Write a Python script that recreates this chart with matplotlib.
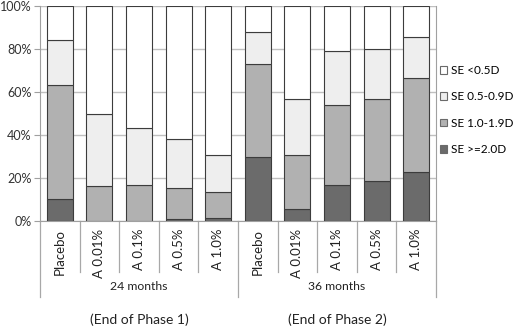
import matplotlib.pyplot as plt
import numpy as np
from matplotlib.patches import Patch

# stacked shares (%), bottom to top
categories = ["Placebo", "A 0.01%", "A 0.1%", "A 0.5%", "A 1.0%",
              "Placebo", "A 0.01%", "A 0.1%", "A 0.5%", "A 1.0%"]
groups = ["24 months", "36 months"]
phases = ["(End of Phase 1)", "(End of Phase 2)"]

se_ge_2_0 = [10.2, 0.3, 0.3, 0.9, 1.4, 29.7, 5.6, 16.7, 18.6, 22.8]
se_1_0_1_9 = [53.0, 16.1, 16.4, 14.4, 12.1, 43.5, 25.1, 37.2, 38.4, 43.6]
se_0_5_0_9 = [20.9, 33.6, 26.5, 22.8, 17.2, 14.9, 26.3, 25.1, 22.9, 19.4]
se_lt_0_5 = [15.9, 50.0, 56.8, 61.9, 69.3, 11.9, 43.0, 21.0, 20.1, 14.2]

series = [
    ("SE >=2.0D", se_ge_2_0, "#6b6b6b"),
    ("SE 1.0-1.9D", se_1_0_1_9, "#b1b1b1"),
    ("SE 0.5-0.9D", se_0_5_0_9, "#eeeeee"),
    ("SE <0.5D", se_lt_0_5, "#ffffff"),
]

plt.rcParams['font.family'] = ['Lato', 'DejaVu Sans']
plt.rcParams['font.size'] = 9

fig = plt.figure(figsize=(5.15, 3.27), dpi=100)
ax = fig.add_axes([40 / 515, 1 - 221.3 / 327, 396 / 515, 215.3 / 327])

x = np.arange(len(categories))
bottom = np.zeros(len(categories))
for name, vals, col in series:
    ax.bar(x, vals, 0.66, bottom=bottom, color=col, edgecolor="#3c3c3c",
           linewidth=0.8, zorder=3)
    bottom += np.array(vals)

ax.set_xlim(-0.5, len(categories) - 0.5)
ax.set_ylim(0, 100)
ax.set_yticks(np.arange(0, 101, 20))
ax.set_yticklabels([f"{v}%" for v in range(0, 101, 20)], color="#333333")
ax.yaxis.grid(True, color="#c0c0c0", linewidth=1.0, zorder=0)
ax.tick_params(axis="y", length=4, width=0.8, color="#a0a0a0", pad=2)
ax.set_xticks([])

ax.spines["top"].set_visible(False)
ax.spines["left"].set_color("#a0a0a0")
ax.spines["right"].set_color("#a0a0a0")
ax.spines["bottom"].set_color("#a0a0a0")

# multi-level category axis
trans = ax.get_xaxis_transform()
line_kw = dict(color="#a8a8a8", linewidth=0.9, transform=trans, clip_on=False)
for i in range(len(categories)):
    ax.text(i, -0.035, categories[i], rotation=90, ha="center", va="top",
            transform=trans, color="#222222", fontsize=9.5)
for b in np.arange(0.5, len(categories) - 1, 1.0):
    if b == 4.5:
        continue
    ax.plot([b, b], [0, -0.235], **line_kw)
for b in [-0.5, 4.5, 9.5]:
    ax.plot([b, b], [0, -0.351], **line_kw)
for k, g in enumerate(groups):
    cx = 2 + 5 * k
    ax.text(cx, -0.305, g, ha="center", va="center", transform=trans,
            color="#222222", fontsize=8.8)
    ax.text(cx, -0.455, phases[k], ha="center", va="center", transform=trans,
            color="#222222", fontsize=10)

handles = [Patch(facecolor=col, edgecolor="#6a6a6a", linewidth=0.8, label=name)
           for name, vals, col in series[::-1]]
fig.legend(handles=handles, loc="upper left", bbox_to_anchor=(440 / 515, 1 - 65 / 327),
           frameon=False, handlelength=0.6, handleheight=0.6, handletextpad=0.3,
           labelspacing=1.3, borderaxespad=0, borderpad=0, fontsize=8.5)

fig.savefig("out.png", dpi=100)
